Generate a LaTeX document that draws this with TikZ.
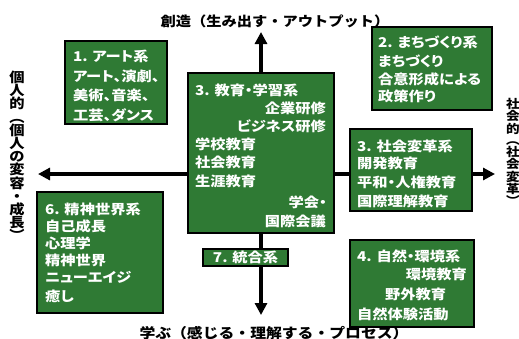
\documentclass[tikz,border=0pt]{standalone}
\usepackage{fontspec}
\usetikzlibrary{arrows.meta}
\newfontfamily\jp[FakeStretch=1.13]{Noto Sans CJK JP}
\newfontfamily\jpp[FakeStretch=1.13,RawFeature=+palt]{Noto Sans CJK JP}
\definecolor{boxgreen}{RGB}{47,122,52}
\begin{document}
\begin{tikzpicture}[x=1pt,y=-1pt,
  gbox/.style={draw=black, line width=1.4pt, fill=boxgreen, inner sep=0pt, outer sep=0pt, anchor=north west},
  wt/.style={text=white, font=\jpp\bfseries\fontsize{13.5}{15}\selectfont, inner sep=0pt, anchor=base west},
  wtr/.style={wt, anchor=base east},
  lbl/.style={text=black, font=\jp\bfseries\fontsize{13.5}{15}\selectfont, inner sep=0pt},
  axisline/.style={line width=3.2pt, {Triangle[length=12pt,width=12pt]}-{Triangle[length=12pt,width=12pt]}}
  ]
\useasboundingbox (0,0) rectangle (519,338);
\fill[white] (0,0) rectangle (519,338);

% axes
\coordinate (L) at (38,174);
\coordinate (R) at (495,174);
\coordinate (T) at (261,32);
\coordinate (B) at (261,315);
\draw[axisline] (L) -- (R);
\draw[axisline] (T) -- (B);

% axis labels
\node[lbl, anchor=base] (top) at (275,26) {創造（生み出す・アウトプット）};
\node[lbl, anchor=base, font=\jp\bfseries\fontsize{14}{15}\selectfont] (bot) at (274,338.5) {学ぶ（感じる・理解する・プロセス）};
\node[lbl, align=center, font=\jp\bfseries\fontsize{13.5}{13.2}\selectfont] (lv) at (17,156)
  {個\\人\\的\\︵\\個\\人\\の\\変\\容\\・\\成\\長\\︶};
\node[lbl, align=center, font=\jp\bfseries\fontsize{12}{10.8}\selectfont] (rv) at (513,152)
  {社\\会\\的\\︵\\社\\会\\変\\革\\︶};

% box 1
\node[gbox, minimum width=102pt, minimum height=83pt] (b1) at (65,41) {};
\node[wt] (b1a) at (73,61) {1. アート系};
\node[wt] (b1b) at (73,81) {アート、演劇、};
\node[wt] (b1c) at (73,100.5) {美術、音楽、};
\node[wt] (b1d) at (73,120) {工芸、ダンス};

% box 2
\node[gbox, minimum width=120pt, minimum height=83pt] (b2) at (372,27) {};
\node[wt] (b2a) at (378,47) {2. まちづくり系};
\node[wt] (b2b) at (378,66) {まちづくり};
\node[wt] (b2c) at (378,84) {合意形成による};
\node[wt] (b2d) at (378,101) {政策作り};

% center box 3
\node[gbox, minimum width=146pt, minimum height=160pt] (b3) at (188,73) {};
\node[wt] (b3a) at (195,95) {3. 教育・学習系};
\node[wtr] (b3b) at (326,113) {企業研修};
\node[wtr] (b3c) at (326,131) {ビジネス研修};
\node[wt] (b3d) at (195,149) {学校教育};
\node[wt] (b3e) at (195,167) {社会教育};
\node[wt] (b3f) at (195,186) {生涯教育};
\node[wtr] (b3g) at (327,207) {学会・};
\node[wtr] (b3h) at (326,226) {国際会議};

% box 3 social
\node[gbox, minimum width=122pt, minimum height=82pt] (b3s) at (350,129) {};
\node[wt] (b3sa) at (357,151) {3. 社会変革系};
\node[wt] (b3sb) at (357,168) {開発教育};
\node[wt] (b3sc) at (357,187) {平和・人権教育};
\node[wt] (b3sd) at (357,206) {国際理解教育};

% box 4
\node[gbox, minimum width=124pt, minimum height=87pt] (b4) at (350,240) {};
\node[wt] (b4a) at (357,261) {4. 自然・環境系};
\node[wtr] (b4b) at (467,279) {環境教育};
\node[wt] (b4c) at (385,299) {野外教育};
\node[wt] (b4d) at (357,319) {自然体験活動};

% box 6
\node[gbox, minimum width=126pt, minimum height=121pt] (b6) at (37,192) {};
\node[wt] (b6a) at (45,214) {6. 精神世界系};
\node[wt] (b6b) at (45,231) {自己成長};
\node[wt] (b6c) at (45,248) {心理学};
\node[wt] (b6d) at (45,265) {精神世界};
\node[wt] (b6e) at (45,282) {ニューエイジ};
\node[wt] (b6f) at (45,301) {癒し};

% box 7
\node[gbox, minimum width=85pt, minimum height=17pt] (b7) at (203,249) {};
\node[wt, anchor=center] (b7a) at (b7.center) {7. 統合系};
\end{tikzpicture}
\end{document}
